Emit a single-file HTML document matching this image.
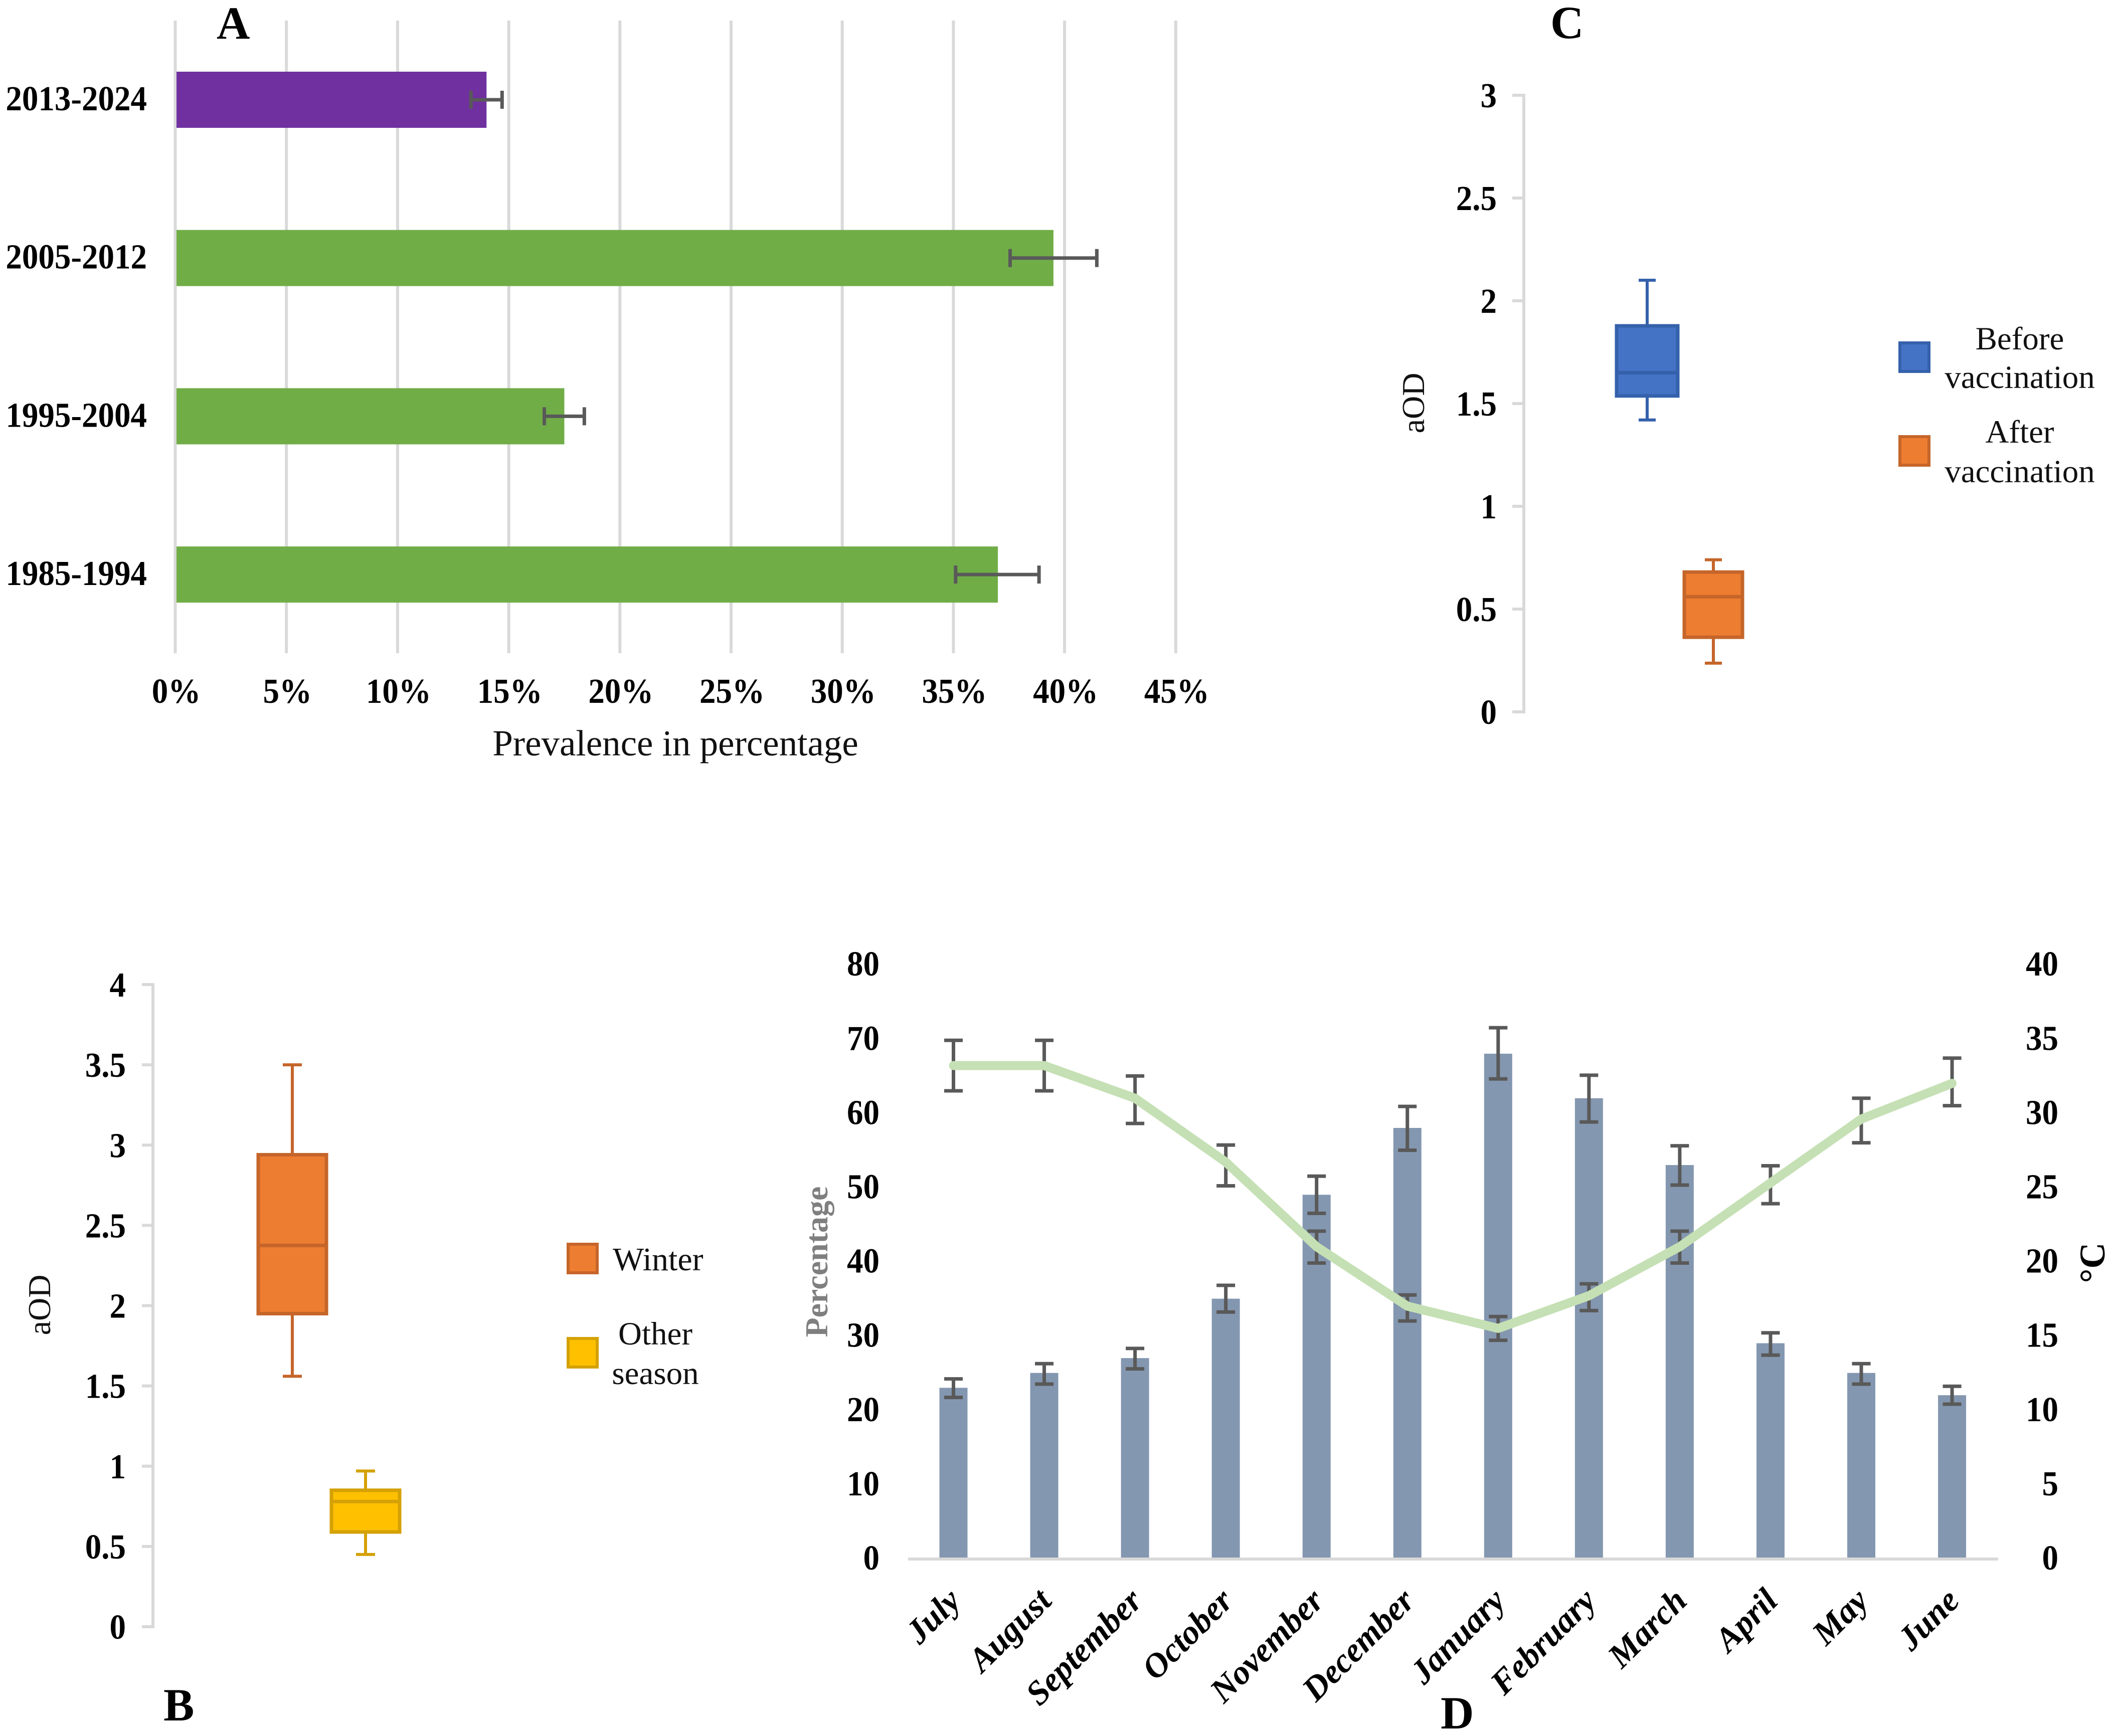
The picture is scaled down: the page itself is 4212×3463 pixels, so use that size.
<!DOCTYPE html>
<html lang="en">
<head>
<meta charset="utf-8">
<title>Prevalence and aOD charts</title>
<style>
html,body{margin:0;padding:0;background:#fff;}
svg{display:block;font-family:"Liberation Serif",serif;}
.tick{font-weight:bold;font-size:65px;fill:#000;}
.leg{font-size:65px;fill:#111;}
.panel{font-weight:bold;font-size:92px;fill:#000;}
</style>
</head>
<body>
<svg id="fig" xmlns="http://www.w3.org/2000/svg" width="4212" height="3463" viewBox="0 0 4212 3463">
  <rect width="4212" height="3463" fill="#fff"/>
  <g id="panelA"></g>
  <g id="panelB"></g>
  <g id="panelC"></g>
  <g id="panelD"></g>

  <text class="panel" x="432" y="77">A</text>
  <text class="panel" x="326" y="3432">B</text>
  <text class="panel" x="3092" y="76">C</text>
  <text class="panel" x="2873" y="3448">D</text>

  <text x="1347" y="1507" font-size="73" text-anchor="middle" fill="#111">Prevalence in percentage</text>

  <text transform="translate(100,2603) rotate(-90)" font-size="64" text-anchor="middle" fill="#111">aOD</text>
  <g>
    <rect x="1133" y="2482" width="58" height="57" fill="#ed7d31" stroke="#c5652a" stroke-width="6"/>
    <text class="leg" x="1222" y="2534" style="font-size:66px">Winter</text>
    <rect x="1133" y="2670" width="58" height="57" fill="#ffc000" stroke="#d4a106" stroke-width="6"/>
    <text class="leg" x="1307" y="2682" text-anchor="middle">Other</text>
    <text class="leg" x="1307" y="2761" text-anchor="middle">season</text>
  </g>

  <text transform="translate(2840,804) rotate(-90)" font-size="64" text-anchor="middle" fill="#111">aOD</text>
  <g>
    <rect x="3789" y="684" width="58" height="57" fill="#4472c4" stroke="#3561ab" stroke-width="6"/>
    <text class="leg" x="4028" y="697" text-anchor="middle">Before</text>
    <text class="leg" x="4028" y="774" text-anchor="middle">vaccination</text>
    <rect x="3789" y="871" width="58" height="57" fill="#ed7d31" stroke="#c5652a" stroke-width="6"/>
    <text class="leg" x="4028" y="883" text-anchor="middle">After</text>
    <text class="leg" x="4028" y="962" text-anchor="middle">vaccination</text>
  </g>

  <text transform="translate(1650,2517) rotate(-90)" font-size="64" font-weight="bold" text-anchor="middle" fill="#7f7f7f">Percentage</text>
  <text transform="translate(4197,2519) rotate(-90)" font-size="72" font-weight="bold" text-anchor="middle" fill="#000">°C</text>
</svg>

<script>
// ---- Panel A data ----
const periods = ['2013-2024', '2005-2012', '1995-2004', '1985-1994'];
const prevalence = [14, 39.5, 17.5, 37];
const prevalenceLow = [13.3, 37.55, 16.6, 35.1];
const prevalenceHigh = [14.7, 41.45, 18.4, 38.85];
const periodColors = ['#7030a0', '#70ad47', '#70ad47', '#70ad47'];
const prevalenceTicks = [0, 5, 10, 15, 20, 25, 30, 35, 40, 45];

// ---- Panel B data ----
const seasonMax = [3.5, 0.97];
const seasonQ3 = [2.94, 0.85];
const seasonMedian = [2.375, 0.78];
const seasonQ1 = [1.95, 0.59];
const seasonMin = [1.56, 0.45];
const seasonTicks = [0, 0.5, 1, 1.5, 2, 2.5, 3, 3.5, 4];

// ---- Panel C data ----
const vaccMax = [2.1, 0.74];
const vaccQ3 = [1.878, 0.68];
const vaccMedian = [1.65, 0.56];
const vaccQ1 = [1.537, 0.363];
const vaccMin = [1.42, 0.237];
const vaccTicks = [0, 0.5, 1, 1.5, 2, 2.5, 3];

// ---- Panel D data ----
const months = ['July', 'August', 'September', 'October', 'November', 'December', 'January', 'February', 'March', 'April', 'May', 'June'];
const monthPct = [23, 25, 27, 35, 49, 58, 68, 62, 53, 29, 25, 22];
const monthPctLow = [21.7, 23.5, 25.55, 33.2, 46.5, 55, 64.6, 58.8, 50.3, 27.4, 23.5, 20.8];
const monthPctHigh = [24.2, 26.25, 28.3, 36.8, 51.5, 60.9, 71.5, 65.1, 55.6, 30.4, 26.25, 23.2];
const monthTemp = [33.2, 33.2, 31, 26.7, 21, 17, 15.5, 17.7, 21, 25.3, 29.6, 32];
const monthTempLow = [31.5, 31.5, 29.3, 25.1, 19.9, 16, 14.7, 16.7, 19.9, 23.9, 28, 30.5];
const monthTempHigh = [34.9, 34.9, 32.5, 27.85, 22.05, 17.75, 16.3, 18.5, 22.05, 26.45, 31, 33.7];
const pctTicks = [0, 10, 20, 30, 40, 50, 60, 70, 80];
const tempTicks = [0, 5, 10, 15, 20, 25, 30, 35, 40];

const NS = 'http://www.w3.org/2000/svg';
function mk(parent, tag) {
  const el = document.createElementNS(NS, tag);
  parent.appendChild(el);
  return el;
}
function line(parent, x1, y1, x2, y2, color, w) {
  const el = mk(parent, 'line');
  el.setAttribute('x1', x1);
  el.setAttribute('y1', y1);
  el.setAttribute('x2', x2);
  el.setAttribute('y2', y2);
  el.setAttribute('stroke', color);
  el.setAttribute('stroke-width', w);
  return el;
}
function rect(parent, x, y, w, h, fill) {
  const el = mk(parent, 'rect');
  el.setAttribute('x', x);
  el.setAttribute('y', y);
  el.setAttribute('width', w);
  el.setAttribute('height', h);
  el.setAttribute('fill', fill);
  return el;
}
function label(parent, x, y, str, anchor) {
  const el = mk(parent, 'text');
  el.setAttribute('class', 'tick');
  el.setAttribute('transform', 'translate(' + x + ',' + y + ') scale(1,1.07)');
  el.setAttribute('text-anchor', anchor);
  el.textContent = str;
  return el;
}

// ---- Panel A ----
(function () {
  const g = document.getElementById('panelA');
  const xA = v => 349.5 + v * 44.34;
  const catCenters = i => 199 + i * 315.7;
  prevalenceTicks.forEach(t => {
    const gl = line(g, xA(t), 41, xA(t), 1303, '#d9d9d9', 6);
    
    
    const tl = label(g, xA(t) + 2, 1402, t + '%', 'middle');
    
    
  });
  periods.forEach((p, i) => {
    const cy = catCenters(i);
    const bar = rect(g, xA(0) + 2.5, cy - 56, xA(prevalence[i]) - xA(0) - 2.5, 112, periodColors[i]);
    
    
    const e1 = line(g, xA(prevalenceLow[i]), cy, xA(prevalenceHigh[i]), cy, '#595959', 7);
    
    
    [prevalenceLow[i], prevalenceHigh[i]].forEach(v => {
      const c = line(g, xA(v), cy - 18, xA(v), cy + 18, '#595959', 7);
      
      
    });
    const tl = label(g, 293, cy + 21, p, 'end');
    
    
  });
})();

// ---- Box plot helper ----
function boxPlot(g, y, cx, halfW, capW, hi, q3, med, q1, lo, fill, edge) {
  const wh = line(g, cx, y(hi), cx, y(lo), edge, 6);
  
  
  [hi, lo].forEach(v => {
    const cap = line(g, cx - capW, y(v), cx + capW, y(v), edge, 6);
    
    
  });
  const box = rect(g, cx - halfW, y(q3), 2 * halfW, y(q1) - y(q3), fill);
  box.setAttribute('stroke', edge);
  box.setAttribute('stroke-width', 7);
  
  
  const m = line(g, cx - halfW, y(med), cx + halfW, y(med), edge, 7);
  
  
}
function boxAxis(g, y, axisX, tickX, labelX, ticks, top, bottom) {
  const ax = line(g, axisX, y(top), axisX, y(bottom), '#d9d9d9', 6);
  
  
  ticks.forEach(t => {
    const tk = line(g, tickX, y(t), axisX + 3, y(t), '#d9d9d9', 6);
    
    
    const tl = label(g, labelX, y(t) + 24, String(t), 'end');
    
    
  });
}

// ---- Panel B ----
(function () {
  const g = document.getElementById('panelB');
  const y = v => 3245 - v * 320.25;
  boxAxis(g, y, 305, 283, 251, seasonTicks, 4, 0);
  boxPlot(g, y, 583, 68, 19, seasonMax[0], seasonQ3[0], seasonMedian[0], seasonQ1[0], seasonMin[0], '#ed7d31', '#c5652a');
  boxPlot(g, y, 729, 68, 19, seasonMax[1], seasonQ3[1], seasonMedian[1], seasonQ1[1], seasonMin[1], '#ffc000', '#d4a106');
})();

// ---- Panel C ----
(function () {
  const g = document.getElementById('panelC');
  const y = v => 1420 - v * 410;
  boxAxis(g, y, 3039, 3016, 2985, vaccTicks, 3, 0);
  boxPlot(g, y, 3285, 61, 17, vaccMax[0], vaccQ3[0], vaccMedian[0], vaccQ1[0], vaccMin[0], '#4472c4', '#3561ab');
  boxPlot(g, y, 3417, 58, 17, vaccMax[1], vaccQ3[1], vaccMedian[1], vaccQ1[1], vaccMin[1], '#ed7d31', '#c5652a');
})();

// ---- Panel D ----
(function () {
  const g = document.getElementById('panelD');
  const yL = v => 3109 - v * 14.81;
  const yR = v => 3109 - v * 29.62;
  const xC = i => 1901.5 + i * 181.05;
  const errColor = '#595959';

  pctTicks.forEach(t => {
    const tl = label(g, 1754, yL(t) + 22, String(t), 'end');
    
    
  });
  tempTicks.forEach(t => {
    const tl = label(g, 4105, yR(t) + 22, String(t), 'end');
    
    
  });

  months.forEach((m, i) => {
    const bar = rect(g, xC(i) - 28, yL(monthPct[i]), 56, yL(0) - yL(monthPct[i]), '#8497b0');
    
    
  });
  const base = line(g, 1811, 3110, 3985, 3110, '#d9d9d9', 6);
  
  

  function errBar(x, y1, y2) {
    const v = line(g, x, y1, x, y2, errColor, 7);
    
    
    [y1, y2].forEach(yy => {
      const c = line(g, x - 18.5, yy, x + 18.5, yy, errColor, 7);
      
      
    });
  }
  months.forEach((m, i) => {
    errBar(xC(i), yL(monthPctLow[i]), yL(monthPctHigh[i]));
    errBar(xC(i), yR(monthTempLow[i]), yR(monthTempHigh[i]));
  });

  const path = mk(g, 'polyline');
  path.setAttribute('points', monthTemp.map((v, i) => xC(i) + ',' + yR(v)).join(' '));
  path.setAttribute('fill', 'none');
  path.setAttribute('stroke', '#c5e0b4');
  path.setAttribute('stroke-width', 18);
  path.setAttribute('stroke-linejoin', 'round');
  path.setAttribute('stroke-linecap', 'round');
  
  

  months.forEach((m, i) => {
    const tx = mk(g, 'text');
    const ax = xC(i) + 18;
    const ay = 3197;
    tx.setAttribute('class', 'tick');
    tx.style.fontSize = '68px';
    tx.setAttribute('font-style', 'italic');
    tx.setAttribute('text-anchor', 'end');
    tx.setAttribute('transform', 'translate(' + ax + ',' + ay + ') rotate(-45)');
    
    
    tx.textContent = m;
  });
})();
</script>
</body>
</html>
